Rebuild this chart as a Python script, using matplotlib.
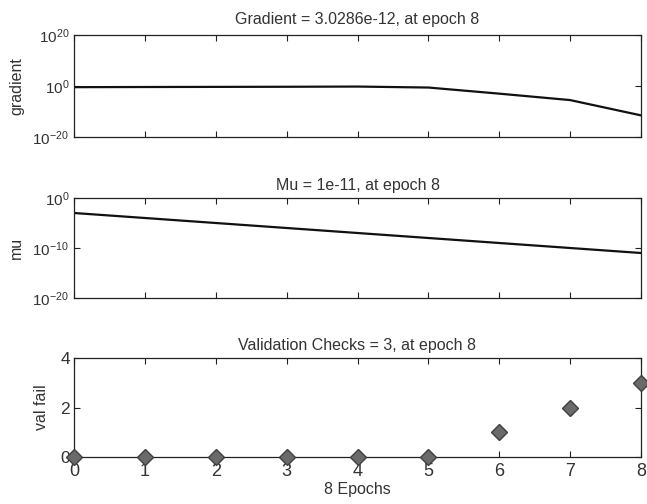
import matplotlib
matplotlib.use('Agg')
import matplotlib.pyplot as plt
import numpy as np

plt.rcParams['font.family'] = ['Liberation Sans', 'DejaVu Sans']
plt.rcParams['mathtext.fontset'] = 'custom'
plt.rcParams['mathtext.rm'] = 'Liberation Sans'
plt.rcParams['mathtext.it'] = 'Liberation Sans:italic'

# Dati
epochs = [0, 1, 2, 3, 4, 5, 6, 7, 8]
gradient = [0.35, 0.4, 0.45, 0.5, 0.6, 0.25, 1e-3, 3e-6, 3.0286e-12]
mu = [1e-3, 1e-4, 1e-5, 1e-6, 1e-7, 1e-8, 1e-9, 1e-10, 1e-11]
val_fail = [0, 0, 0, 0, 0, 0, 1, 2, 3]

fig = plt.figure(figsize=(6.47, 5.04), dpi=100)
W, H = 647, 504
TXT = '#333333'


def make_ax(left, top, right, bottom):
    return fig.add_axes([left / W, 1 - bottom / H, (right - left) / W, (bottom - top) / H])


def style(ax):
    ax.tick_params(direction='in', top=True, right=True, length=4.5, width=0.8,
                   labelsize=11, colors='#222222', labelcolor=TXT, which='major')
    ax.tick_params(which='minor', left=False, right=False)
    for s in ax.spines.values():
        s.set_linewidth(0.9)
        s.set_color('#222222')
    ax.set_xlim(0, 8)
    ax.set_xticks(range(9))


# Gradient
ax1 = make_ax(74, 35, 641, 137)
ax1.semilogy(epochs, gradient, color='#111111', lw=1.6)
ax1.set_ylim(1e-20, 1e20)
ax1.set_yticks([1e-20, 1e0, 1e20])
ax1.set_yticklabels([r'$10^{-20}$', r'$10^{0}$', r'$10^{20}$'])
style(ax1)
ax1.set_xticklabels([])
ax1.set_ylabel('gradient', fontsize=11.5, color=TXT, labelpad=6)
ax1.set_title('Gradient = 3.0286e-12, at epoch 8', fontsize=11.5, color=TXT, pad=8)

# Mu
ax2 = make_ax(74, 198, 641, 298)
ax2.semilogy(epochs, mu, color='#111111', lw=1.6)
ax2.set_ylim(1e-20, 1e0)
ax2.set_yticks([1e-20, 1e-10, 1e0])
ax2.set_yticklabels([r'$10^{-20}$', r'$10^{-10}$', r'$10^{0}$'])
style(ax2)
ax2.set_xticklabels([])
ax2.set_ylabel('mu', fontsize=11.5, color=TXT, labelpad=6)
ax2.set_title('Mu = 1e-11, at epoch 8', fontsize=11.5, color=TXT, pad=6)

# Validation checks
ax3 = make_ax(74, 358, 641, 457)
ax3.plot(epochs, val_fail, 'D', color='#6a6a6a', markeredgecolor='#404040',
         markersize=8, clip_on=False, zorder=5)
ax3.set_ylim(0, 4)
ax3.set_yticks([0, 2, 4])
style(ax3)
ax3.tick_params(axis='x', labelsize=13, pad=4)
ax3.tick_params(axis='y', labelsize=12.5, pad=3)
ax3.set_ylabel('val fail', fontsize=11.5, color=TXT, labelpad=8)
ax3.set_xlabel('8 Epochs', fontsize=11.5, color=TXT, labelpad=2)
ax3.set_title('Validation Checks = 3, at epoch 8', fontsize=11.5, color=TXT, pad=6)

fig.savefig('out.png', dpi=100)
